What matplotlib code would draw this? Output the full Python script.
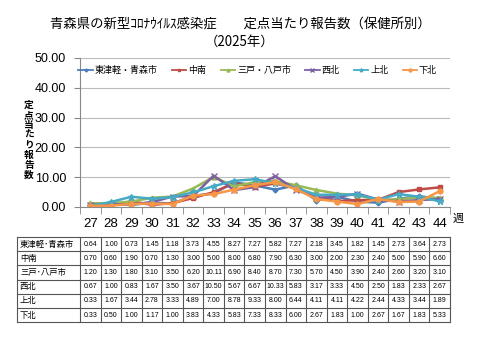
import matplotlib
matplotlib.use("Agg")
import matplotlib.pyplot as plt

plt.rcParams['font.family'] = ['Noto Sans CJK JP', 'DejaVu Sans']

weeks = [27, 28, 29, 30, 31, 32, 33, 34, 35, 36, 37, 38, 39, 40, 41, 42, 43, 44]
names = ['東津軽・青森市', '中南', '三戸・八戸市', '西北', '上北', '下北']
table_names = ['東津軽･青森市', '中南', '三戸･八戸市', '西北', '上北', '下北']
v_aomori = [0.64, 1.00, 0.73, 1.45, 1.18, 3.73, 4.55, 8.27, 7.27, 5.82, 7.27, 2.18, 3.45, 1.82, 1.45, 2.73, 3.64, 2.73]
v_chunan = [0.70, 0.60, 1.90, 0.70, 1.30, 3.00, 5.00, 8.00, 6.80, 7.90, 6.30, 3.00, 2.00, 2.30, 2.40, 5.00, 5.90, 6.60]
v_hachinohe = [1.20, 1.30, 1.80, 3.10, 3.50, 6.20, 10.11, 6.90, 8.40, 8.70, 7.30, 5.70, 4.50, 3.90, 2.40, 2.60, 3.20, 3.10]
v_seihoku = [0.67, 1.00, 0.83, 1.67, 3.50, 3.67, 10.50, 5.67, 6.67, 10.33, 5.83, 3.17, 3.33, 4.50, 2.50, 1.83, 2.33, 2.67]
v_kamikita = [0.33, 1.67, 3.44, 2.78, 3.33, 4.89, 7.00, 8.78, 9.33, 8.00, 6.44, 4.11, 4.11, 4.22, 2.44, 4.33, 3.44, 1.89]
v_shimokita = [0.33, 0.50, 1.00, 1.17, 1.00, 3.83, 4.33, 5.83, 7.33, 8.33, 6.00, 2.67, 1.83, 1.00, 2.67, 1.67, 1.83, 5.33]
series = [v_aomori, v_chunan, v_hachinohe, v_seihoku, v_kamikita, v_shimokita]
yticks = [0, 10, 20, 30, 40, 50]

colors = ['#4A7EBB', '#BE4B48', '#98B954', '#7D60A0', '#46AAC5', '#F79646']
markers = ['D', 's', '^', 'x', '*', 'o']
msizes = [2.5, 3.5, 3.5, 4.5, 4.5, 3.5]

W, H = 480, 360
fig = plt.figure(figsize=(4.8, 3.6), dpi=100)

def px(x0, y0, x1, y1):
    return [x0 / W, 1 - y1 / H, (x1 - x0) / W, (y1 - y0) / H]

ax = fig.add_axes(px(80, 58, 450, 207))
n = len(weeks)
xs = list(range(n))
for s, c, m, ms, lab in zip(series, colors, markers, msizes, names):
    ax.plot(xs, s, color=c, marker=m, markersize=ms, linewidth=1.8, label=lab,
            markeredgewidth=1.0)
ax.set_xlim(-0.5, n - 0.5)
ax.set_ylim(0, 50)
ax.set_yticks(yticks)
ax.set_yticklabels([f"{v:.2f}" for v in yticks], fontsize=9, family=['Liberation Sans', 'DejaVu Sans'])
ax.set_xticks(xs)
ax.set_xticklabels([str(w) for w in weeks], fontsize=9.5, family=['Liberation Sans', 'DejaVu Sans'])
ax.tick_params(axis='x', length=0, pad=8)
ax.set_xticks([i - 0.5 for i in range(n + 1)], minor=True)
ax.tick_params(axis='x', which='minor', length=5, color='#888888', direction='out')
ax.tick_params(axis='y', length=4, color='#888888', direction='out', pad=6)
ax.grid(axis='y', color='#BBBBBB', linewidth=0.8)
ax.set_axisbelow(True)
for sp in ['top', 'right']:
    ax.spines[sp].set_visible(False)
ax.spines['left'].set_color('#888888')
ax.spines['bottom'].set_color('#888888')

leg = ax.legend(loc='upper center', ncol=6, frameon=False, fontsize=6.5,
                handlelength=1.6, columnspacing=1.6, handletextpad=0.2,
                bbox_to_anchor=(0.48, 1.0), markerscale=0.6)
for h in leg.get_lines():
    h.set_linewidth(1.3)

fig.text(0.5, 1 - 24 / H, '青森県の新型ｺﾛﾅｳｲﾙｽ感染症　　定点当たり報告数（保健所別）',
         ha='center', va='center', fontsize=9.6)
fig.text(0.5, 1 - 42 / H, '（2025年）', ha='center', va='center', fontsize=9.6)
fig.text(29 / W, 1 - 140 / H, '\n'.join('定点当たり報告数'), ha='center', va='center',
         fontsize=7, fontweight='bold', linespacing=1.0)
fig.text(458 / W, 1 - 219 / H, '週', ha='center', va='center', fontsize=8)

# table
tax = fig.add_axes([0, 0, 1, 1])
tax.set_xlim(0, W)
tax.set_ylim(H, 0)
tax.axis('off')
x0, xl, x1 = 17, 80, 450
y0 = 237
rh = 14.2
cw = (x1 - xl) / n
ny = len(series)
for r in range(ny + 1):
    y = y0 + r * rh
    tax.plot([x0, x1], [y, y], color='#555555', linewidth=0.8)
tax.plot([x0, x0], [y0, y0 + ny * rh], color='#555555', linewidth=0.8)
for cidx in range(n + 1):
    x = xl + cidx * cw
    tax.plot([x, x], [y0, y0 + ny * rh], color='#555555', linewidth=0.8)
for r, (nm, s) in enumerate(zip(table_names, series)):
    yc = y0 + (r + 0.5) * rh
    tax.text(x0 + 3, yc, nm, ha='left', va='center', fontsize=6)
    for cidx, v in enumerate(s):
        tax.text(xl + (cidx + 0.5) * cw, yc, f"{v:.2f}", ha='center', va='center',
                 fontsize=5, family=['Liberation Sans', 'DejaVu Sans'])

fig.savefig('out.png', dpi=100)
